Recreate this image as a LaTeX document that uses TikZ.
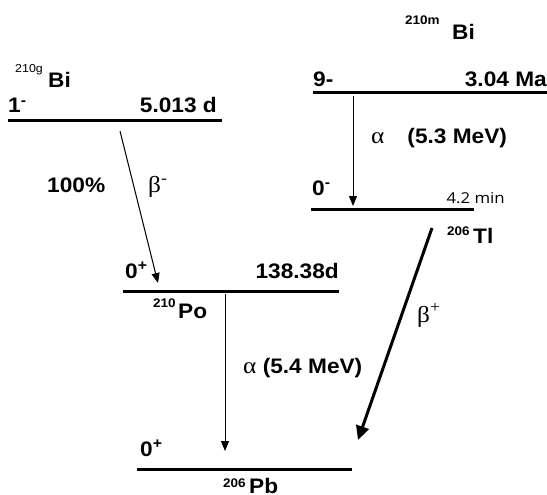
\documentclass[tikz,border=0pt]{standalone}
\usepackage{fontspec}
\usepackage{tikz}
\usetikzlibrary{arrows.meta}
\newfontfamily\lblfont{Liberation Sans}[FakeStretch=1.08]
\newfontfamily\grkfont{Liberation Serif}[FakeStretch=1.1]
\newfontfamily\minfont{Open Sans}[FakeStretch=1.12]
\tikzset{
  lbl/.style={font=\lblfont\bfseries\fontsize{21}{22}\selectfont, inner sep=0pt},
  suplbl/.style={font=\lblfont\bfseries\fontsize{12.5}{13}\selectfont, inner sep=0pt},
  thinsup/.style={font=\lblfont\fontsize{11.5}{12}\selectfont, inner sep=0pt},
  level/.style={line width=3pt},
  alphadecay/.style={line width=1pt, -{Triangle[length=10pt,width=8pt]}},
  betadecay/.style={line width=1pt, -{Triangle[length=10pt,width=8pt]}},
  thickdecay/.style={line width=3pt, -{Triangle[length=14pt,width=13pt]}}
}
\newcommand{\grk}[1]{{\grkfont\mdseries\fontsize{23}{23}\selectfont #1}}

\begin{document}
\begin{tikzpicture}[x=1pt,y=-1pt]
  \useasboundingbox (0,0) rectangle (547,495);
  % 210g Bi ground state
  \coordinate (bigl) at (8,121);
  \coordinate (bigr) at (222,121);
  \draw[level] (bigl) -- (bigr);
  \node[thinsup,anchor=base west] (bigA) at (15,73) {210g};
  \node[lbl,anchor=base west] (bigE) at (48,88) {Bi};
  \node[lbl,anchor=base west] (bigJ) at (8,113) {1\textsuperscript{-}};
  \node[lbl,anchor=base east] (bigT) at (217,113) {5.013 d};
  % 210m Bi isomer
  \coordinate (bimL) at (313,93);
  \coordinate (bimR) at (547,93);
  \draw[level] (bimL) -- (bimR);
  \node[suplbl,anchor=base west] (bimA) at (405,25) {210m};
  \node[lbl,anchor=base west] (bimE) at (452,40) {Bi};
  \node[lbl,anchor=base west] (bimJ) at (313,87) {9-};
  \node[lbl,anchor=base east] (bimT) at (547,87) {3.04 Ma};
  % 206 Tl
  \coordinate (tlL) at (311,209);
  \coordinate (tlR) at (474,209);
  \draw[level] (tlL) -- (tlR);
  \node[lbl,anchor=base west] (tlJ) at (312,195) {0\textsuperscript{-}};
  \node[font=\minfont\fontsize{15}{16}\selectfont,inner sep=0pt,anchor=base east] (tlT) at (505,203) {4.2 min};
  \node[suplbl,anchor=base west] (tlA) at (447,235) {206};
  \node[lbl,anchor=base west] (tlE) at (473,243) {Tl};
  % 210 Po
  \coordinate (poL) at (123,291);
  \coordinate (poR) at (339,291);
  \draw[level] (poL) -- (poR);
  \node[lbl,anchor=base west] (poJ) at (125,278) {0\textsuperscript{+}};
  \node[lbl,anchor=base east] (poT) at (339,278) {138.38d};
  \node[suplbl,anchor=base west] (poA) at (153,307) {210};
  \node[lbl,anchor=base west] (poE) at (178,318) {Po};
  % 206 Pb
  \coordinate (pbL) at (137,469);
  \coordinate (pbR) at (352,469);
  \draw[level] (pbL) -- (pbR);
  \node[lbl,anchor=base west] (pbJ) at (140,456) {0\textsuperscript{+}};
  \node[suplbl,anchor=base west] (pbA) at (223,487) {206};
  \node[lbl,anchor=base west] (pbE) at (249,493) {Pb};
  % decays
  \coordinate (bmS) at (120,131);
  \coordinate (bmE) at (158,283);
  \draw[betadecay] (bmS) -- (bmE);
  \node[lbl,anchor=base west] (bmP) at (47,193) {100\%};
  \node[anchor=base west,inner sep=0pt] (bmL) at (148,193) {\grk{β\textsuperscript{-}}};
  \coordinate (a1S) at (353,96);
  \coordinate (a1E) at (353,206);
  \draw[alphadecay] (a1S) -- (a1E);
  \node[lbl,anchor=base west] (a1L) at (371,143) {\grk{α}\hspace{23pt}(5.3 MeV)};
  \coordinate (a2S) at (225,294);
  \coordinate (a2E) at (225,451);
  \draw[alphadecay] (a2S) -- (a2E);
  \node[lbl,anchor=base west] (a2L) at (243,373) {\grk{α} (5.4 MeV)};
  \coordinate (bpS) at (432,228);
  \coordinate (bpE) at (358,440);
  \draw[thickdecay] (bpS) -- (bpE);
  \node[anchor=base west,inner sep=0pt] (bpL) at (417,322) {\grk{β\textsuperscript{+}}};
\end{tikzpicture}
\end{document}
